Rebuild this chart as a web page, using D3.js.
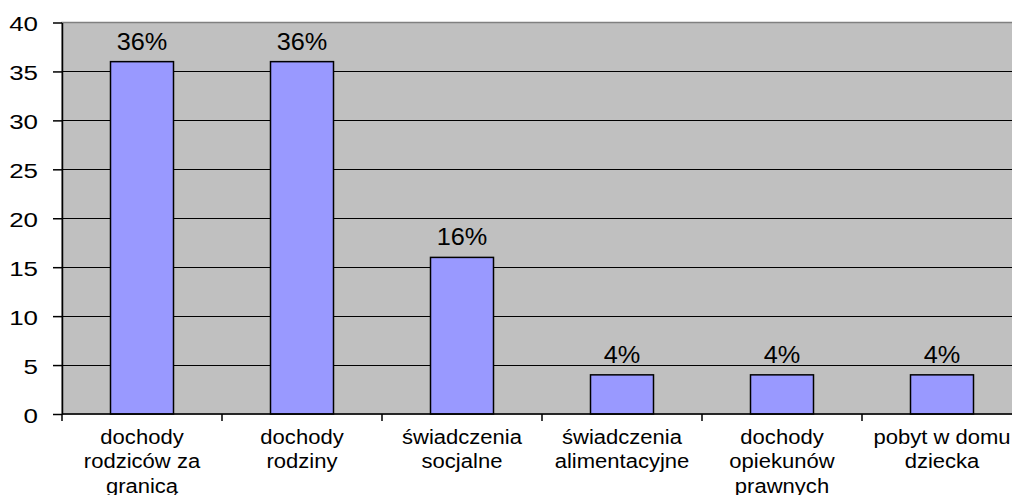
<!DOCTYPE html>
<html><head><meta charset="utf-8">
<script src="https://cdn.jsdelivr.net/npm/d3@7"></script>
<style>html,body{margin:0;padding:0;background:#fff;overflow:hidden}</style>
</head><body>
<svg id="chart" width="1012" height="495"></svg>
<script>
const categories = [
  ["dochody", "rodziców za", "granicą"],
  ["dochody", "rodziny"],
  ["świadczenia", "socjalne"],
  ["świadczenia", "alimentacyjne"],
  ["dochody", "opiekunów", "prawnych"],
  ["pobyt w domu", "dziecka"]
];
const values = [36, 36, 16, 4, 4, 4];
const valueLabels = ["36%", "36%", "16%", "4%", "4%", "4%"];
const yTicks = [0, 5, 10, 15, 20, 25, 30, 35, 40];

const svg = d3.select("#chart");
const m = {left: 62, top: 22.5, bottom: 414, right: 1022};
const font = "'Liberation Sans', Arial, sans-serif";

const xb = d3.scaleBand().domain(d3.range(categories.length)).range([m.left, m.right]);
const y = d3.scaleLinear().domain([0, 40]).range([m.bottom, m.top]);

svg.append("rect").attr("x", m.left).attr("y", m.top).attr("width", m.right - m.left).attr("height", m.bottom - m.top)
  .attr("fill", "#C0C0C0").attr("stroke", "#808080").attr("stroke-width", 1.5);

svg.append("g").selectAll("line").data(yTicks.filter(d => d > 0 && d < 40)).join("line")
  .attr("x1", m.left).attr("x2", m.right).attr("y1", d => Math.round(y(d)) + 0.5).attr("y2", d => Math.round(y(d)) + 0.5)
  .attr("stroke", "#000").attr("stroke-width", 1.2);

svg.append("g").selectAll("rect").data(values).join("rect")
  .attr("x", (d, i) => xb(i) + xb.bandwidth() / 2 - 31.5).attr("width", 63)
  .attr("y", d => y(d)).attr("height", d => y(0) - y(d))
  .attr("fill", "#9999FF").attr("stroke", "#000").attr("stroke-width", 1.5);

svg.append("g").selectAll("text").data(values).join("text")
  .attr("transform", (d, i) => `translate(${xb(i) + xb.bandwidth() / 2},${y(d) - 12}) scale(1.1,1)`)
  .attr("text-anchor", "middle").attr("font-family", font).attr("font-size", 23)
  .text((d, i) => valueLabels[i]);

// y axis
const ya = svg.append("g").attr("transform", `translate(${m.left},0)`)
  .call(d3.axisLeft(y).tickValues(yTicks).tickSize(9).tickPadding(14).tickSizeOuter(0));
ya.select(".domain").attr("stroke", "#000").attr("stroke-width", 1.5);
ya.selectAll(".tick line").attr("stroke", "#000").attr("stroke-width", 1.5);
ya.selectAll(".tick text").attr("font-family", font).attr("font-size", 19.5).attr("fill", "#000")
  .attr("x", 0).attr("dy", "0.36em")
  .attr("transform", "translate(-24,1) scale(1.33,1)");

// x axis
const xa = svg.append("g").attr("transform", `translate(0,${m.bottom})`);
xa.append("line").attr("x1", m.left).attr("x2", m.right).attr("stroke", "#000").attr("stroke-width", 1.5);
xa.selectAll("line.t").data(d3.range(categories.length + 1)).join("line").attr("class", "t")
  .attr("x1", i => m.left + i * xb.bandwidth()).attr("x2", i => m.left + i * xb.bandwidth())
  .attr("y1", 0).attr("y2", 7).attr("stroke", "#000").attr("stroke-width", 1.5);
const lab = xa.selectAll("text").data(categories).join("text")
  .attr("text-anchor", "middle").attr("font-family", font).attr("font-size", 19.5)
  .attr("transform", (d, i) => `translate(${xb(i) + xb.bandwidth() / 2},0) scale(1.13,1)`);
lab.selectAll("tspan").data(d => d).join("tspan").attr("x", 0).attr("y", (d, j) => 30 + j * 24.5).text(d => d);
</script>
</body></html>
